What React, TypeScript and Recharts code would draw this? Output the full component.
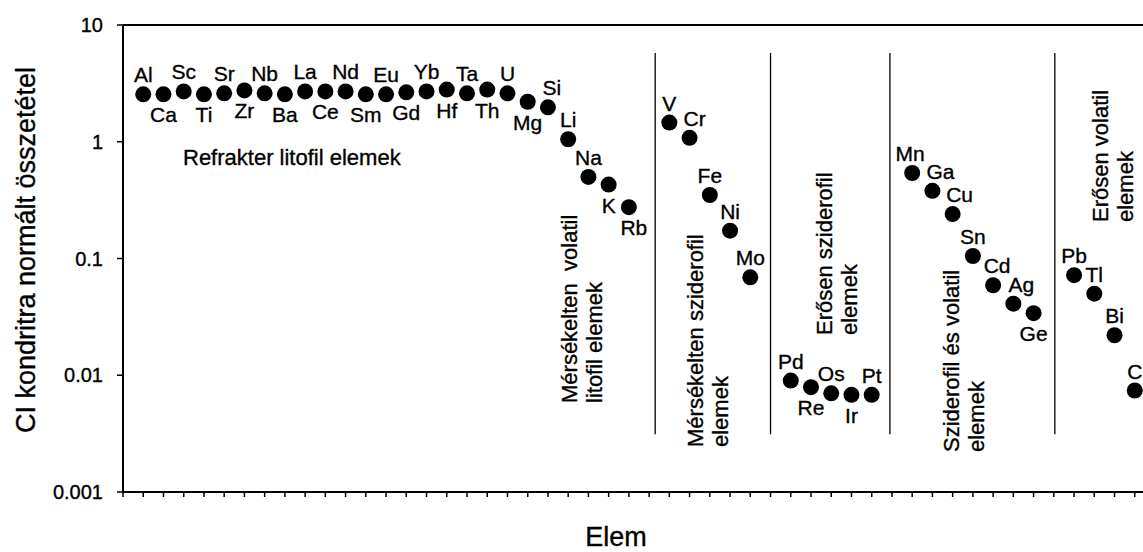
import { ScatterChart, Scatter, XAxis, YAxis, ReferenceLine } from 'recharts';

const FONT = '"Liberation Sans", Arial, sans-serif';
const TEXT_STYLE = { stroke: '#000', strokeWidth: 0.35 };

// elements in plotting order; slots are category positions (gaps between groups)
const elements = [
  'Al', 'Ca', 'Sc', 'Ti', 'Sr', 'Zr', 'Nb', 'Ba', 'La', 'Ce', 'Nd', 'Sm', 'Eu', 'Gd', 'Yb', 'Hf', 'Ta', 'Th', 'U',
  'Mg', 'Si', 'Li', 'Na', 'K', 'Rb',
  'V', 'Cr', 'Fe', 'Ni', 'Mo',
  'Pd', 'Re', 'Os', 'Ir', 'Pt',
  'Mn', 'Ga', 'Cu', 'Sn', 'Cd', 'Ag', 'Ge',
  'Pb', 'Tl', 'Bi', 'C',
];
const slots = [
  1, 2, 3, 4, 5, 6, 7, 8, 9, 10, 11, 12, 13, 14, 15, 16, 17, 18, 19,
  20, 21, 22, 23, 24, 25,
  27, 28, 29, 30, 31,
  33, 34, 35, 36, 37,
  39, 40, 41, 42, 43, 44, 45,
  47, 48, 49, 50,
];
const values = [
  2.55, 2.55, 2.7, 2.55, 2.6, 2.75, 2.6, 2.55, 2.7, 2.7, 2.7, 2.55, 2.55, 2.65, 2.7, 2.8, 2.6, 2.8, 2.6,
  2.2, 1.97, 1.05, 0.5, 0.43, 0.275,
  1.46, 1.08, 0.35, 0.173, 0.069,
  0.009, 0.0079, 0.007, 0.0068, 0.0068,
  0.54, 0.38, 0.24, 0.105, 0.059, 0.041, 0.034,
  0.072, 0.05, 0.022, 0.0074,
];
// label side: a = above, b = below
const labelSide = [
  'a', 'b', 'a', 'b', 'a', 'b', 'a', 'b', 'a', 'b', 'a', 'b', 'a', 'b', 'a', 'b', 'a', 'b', 'a',
  'b', 'a', 'a', 'a', 'b', 'b',
  'a', 'a', 'a', 'a', 'a',
  'a', 'b', 'a', 'b', 'a',
  'a', 'a', 'a', 'a', 'a', 'a', 'b',
  'a', 'a', 'a', 'a',
];
const labelNudge: Record<string, number> = { Si: 4, Rb: 5, Cr: 5, Ga: 8, Cu: 7, Cd: 4, Ag: 8, Mn: -2 };

const yTicks = [0.001, 0.01, 0.1, 1, 10];
const xTicks = Array.from({ length: 52 }, (_, i) => i);
const dividers = [26.3, 32, 37.9, 46.05];

const groups = [
  { x: 577, y: 403, lines: ['Mérsékelten  volatil', 'litofil elemek'] },
  { x: 703, y: 447, lines: ['Mérsékelten sziderofil', 'elemek'] },
  { x: 832, y: 335, lines: ['Erősen sziderofil', 'elemek'] },
  { x: 959, y: 452, lines: ['Sziderofil és volatil', 'elemek'] },
  { x: 1108, y: 222, lines: ['Erősen volatil', 'elemek'] },
];

const data = elements.map((name, i) => ({ x: slots[i], y: values[i], name, side: labelSide[i] }));

function Dot(props: any) {
  const { cx, cy, payload } = props;
  const dx = labelNudge[payload.name] ?? 0;
  const ty = payload.side === 'a' ? cy - 12 : cy + 28;
  return (
    <g>
      <circle cx={cx} cy={cy} r={8} fill="#000" />
      <text x={cx + dx} y={ty} textAnchor="middle" fontSize={21} fontFamily={FONT} fill="#000" style={TEXT_STYLE}>
        {payload.name}
      </text>
    </g>
  );
}

export default function App() {
  return (
    <div style={{ position: 'fixed', left: 0, top: 0, width: 1143, height: 552, overflow: 'hidden', background: '#fff' }}>
      <ScatterChart width={1160} height={552} margin={{ top: 25, right: 5, bottom: 0, left: 0 }}>
        <XAxis
          type="number"
          dataKey="x"
          domain={[0, 51]}
          ticks={xTicks}
          interval={0}
          tickFormatter={() => ''}
          tickSize={5}
          height={60}
          axisLine={{ stroke: '#000', strokeWidth: 2 }}
          tickLine={{ stroke: '#000', strokeWidth: 1.5 }}
        />
        <YAxis
          type="number"
          dataKey="y"
          scale="log"
          domain={[0.001, 10]}
          ticks={yTicks}
          interval={0}
          allowDataOverflow
          width={123}
          tickSize={6}
          tickMargin={14}
          tickFormatter={(v: number) => String(v)}
          tick={{ fill: '#000', fontSize: 20, fontFamily: FONT, ...TEXT_STYLE }}
          axisLine={{ stroke: '#000', strokeWidth: 2 }}
          tickLine={{ stroke: '#000', strokeWidth: 1.5 }}
        />
        <ReferenceLine y={10} stroke="#000" strokeWidth={2} />
        {dividers.map((d) => (
          <ReferenceLine
            key={d}
            segment={[{ x: d, y: 5.75 }, { x: d, y: 0.00313 }]}
            stroke="#000"
            strokeWidth={1.3}
          />
        ))}
        <Scatter data={data} shape={Dot} isAnimationActive={false} />
      </ScatterChart>
      <svg width={1143} height={552} style={{ position: 'absolute', left: 0, top: 0, pointerEvents: 'none' }}>
        <text x={35} y={250} transform="rotate(-90 35 250)" textAnchor="middle" fontSize={27} fontFamily={FONT} fill="#000" style={TEXT_STYLE}>
          CI kondritra normált összetétel
        </text>
        <text x={616} y={546} textAnchor="middle" fontSize={27} fontFamily={FONT} fill="#000" style={TEXT_STYLE}>
          Elem
        </text>
        <text x={183} y={165} fontSize={22} fontFamily={FONT} fill="#000" style={TEXT_STYLE}>
          Refrakter litofil elemek
        </text>
        {groups.map((g) =>
          g.lines.map((line, j) => {
            const bx = g.x + j * 25;
            return (
              <text
                key={g.x + '-' + j}
                x={bx}
                y={g.y}
                transform={`rotate(-90 ${bx} ${g.y})`}
                fontSize={22}
                fontFamily={FONT}
                fill="#000"
                style={{ whiteSpace: 'pre', ...TEXT_STYLE }}
              >
                {line}
              </text>
            );
          })
        )}
      </svg>
    </div>
  );
}
